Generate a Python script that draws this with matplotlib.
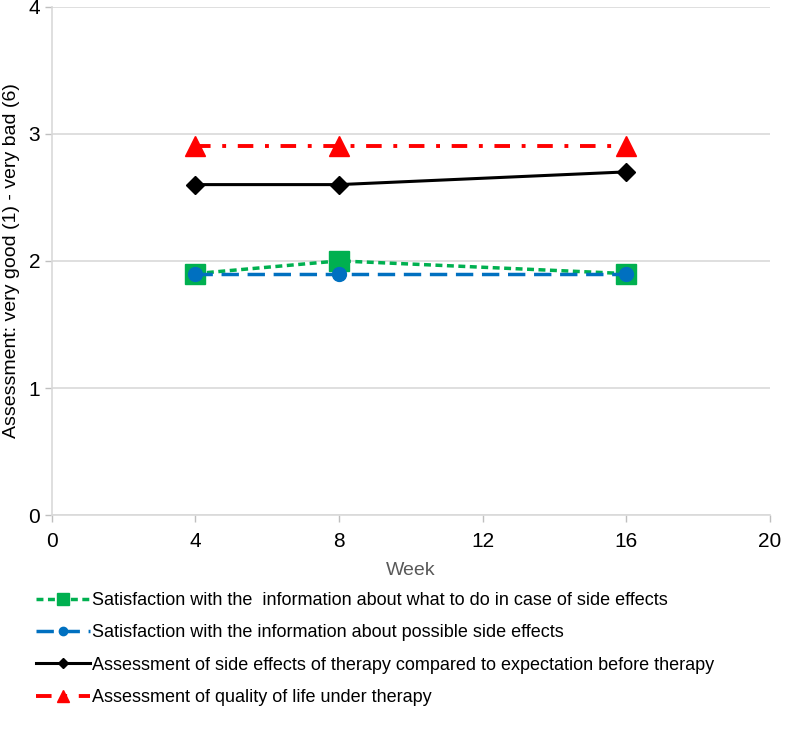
import matplotlib
matplotlib.use("Agg")
import matplotlib.pyplot as plt

plt.rcParams['font.family'] = ['Liberation Sans', 'DejaVu Sans']

weeks = [4, 8, 16]
info_what_to_do = [1.9, 2.0, 1.9]
info_side_effects = [1.9, 1.9, 1.9]
side_vs_expect = [2.6, 2.6, 2.7]
quality_of_life = [2.9, 2.9, 2.9]

labels = [
    "Satisfaction with the  information about what to do in case of side effects",
    "Satisfaction with the information about possible side effects",
    "Assessment of side effects of therapy compared to expectation before therapy",
    "Assessment of quality of life under therapy",
]

fig = plt.figure(figsize=(7.87, 7.38), dpi=100)
ax = fig.add_axes([0.066, 0.302, 0.912, 0.689])

ax.plot(weeks, info_what_to_do, color='#00b050', linestyle=(0, (2, 1.3)), linewidth=2.5,
        marker='s', markersize=14, label=labels[0])
ax.plot(weeks, info_side_effects, color='#0070c0', linestyle=(0, (5, 2.5)), linewidth=2.5,
        marker='o', markersize=10, label=labels[1])
ax.plot(weeks, side_vs_expect, color='black', linestyle='-', linewidth=2.2,
        marker='D', markersize=9, label=labels[2])
ax.plot(weeks, quality_of_life, color='#ff0000', linestyle=(0, (4, 3, 1, 3)), linewidth=2.8,
        marker='^', markersize=14, label=labels[3])

ax.set_xlim(0, 20)
ax.set_ylim(0, 4)
ax.set_xticks([0, 4, 8, 12, 16, 20])
ax.set_yticks([0, 1, 2, 3, 4])
ax.tick_params(labelsize=15, length=5, color='#bfbfbf', width=1)
ax.tick_params(axis='x', pad=7)
ax.grid(axis='y', color='#d9d9d9', linewidth=1.2)
ax.set_axisbelow(True)
for s in ['top', 'right']:
    ax.spines[s].set_visible(False)
for s in ['left', 'bottom']:
    ax.spines[s].set_color('#d9d9d9')
    ax.spines[s].set_linewidth(1.2)

ax.set_xlabel("Week", fontsize=14, color='#595959', labelpad=8)
ax.set_ylabel("Assessment: very good (1) - very bad (6)", fontsize=14, labelpad=6)

handles, labs = ax.get_legend_handles_labels()
leg = fig.legend(handles, labs, loc='upper left', bbox_to_anchor=(0.025, 0.220),
                 frameon=False, fontsize=13, handlelength=3.0, handletextpad=0.1,
                 labelspacing=0.85, markerscale=0.6)

fig.savefig("out.png", dpi=100)
